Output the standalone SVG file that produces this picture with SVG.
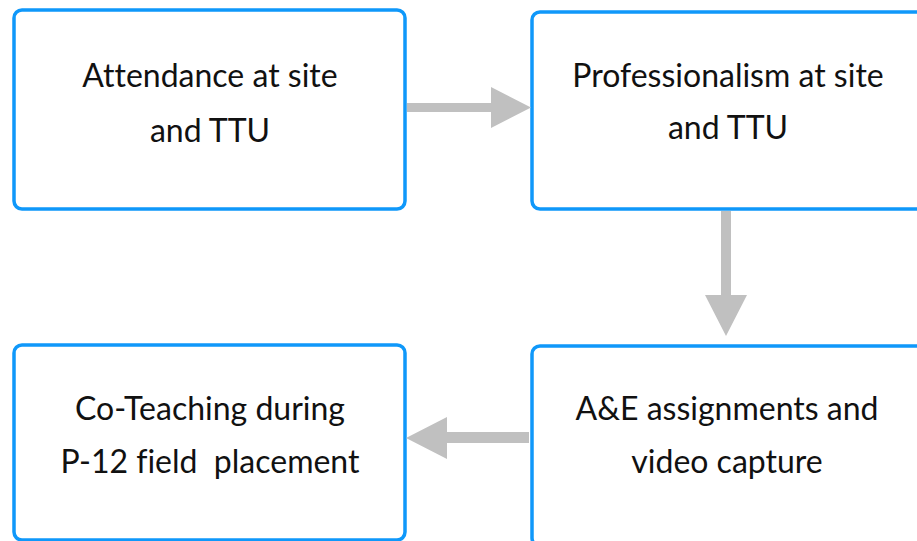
<svg xmlns="http://www.w3.org/2000/svg" width="917" height="541" viewBox="0 0 917 541">
<style>
.box{fill:#fff;stroke:#0f98fa;stroke-width:3.5}
.lbl{font-family:Lato,"Noto Sans",sans-serif;font-size:32px;fill:#111;text-anchor:middle;white-space:pre;font-variant-ligatures:none}
.arr{fill:#c0c0c0}
</style>
<rect width="917" height="541" fill="#fff"/>
<g id="node1"><rect class="box" x="14" y="10" width="391" height="199" rx="8"/>
<text class="lbl" x="210" y="87">Attendance at site</text><text class="lbl" x="210" y="142">and TTU</text></g>
<g id="node2"><rect class="box" x="532" y="12" width="400" height="197" rx="8"/>
<text class="lbl" x="728" y="87">Professionalism at site</text><text class="lbl" x="728" y="139">and TTU</text></g>
<g id="node3"><rect class="box" x="532" y="346" width="400" height="200" rx="8"/>
<text class="lbl" x="727" y="420">A&amp;E assignments and</text><text class="lbl" x="727" y="473">video capture</text></g>
<g id="node4"><rect class="box" x="14" y="345" width="391" height="195" rx="8"/>
<text class="lbl" x="210" y="420">Co-Teaching during</text><text class="lbl" x="210" y="473" xml:space="preserve">P-12 field  placement</text></g>
<g id="connectors">
<polygon class="arr" points="407,103 491,103 491,87 531,107.5 491,128 491,112 407,112"/>
<polygon class="arr" points="721,211 731,211 731,295 747,295 726,336 705,295 721,295"/>
<polygon class="arr" points="529,432 447,432 447,417 406,438 447,459 447,443 529,443"/>
</g>
</svg>
